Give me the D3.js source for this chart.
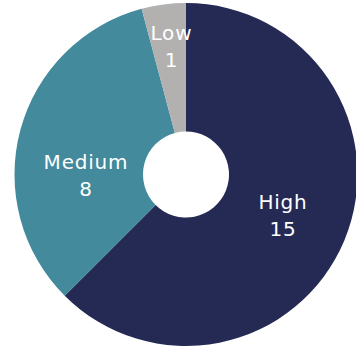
<!DOCTYPE html>
<html><head><meta charset="utf-8">
<script src="https://cdn.jsdelivr.net/npm/d3@7"></script>
<style>html,body{margin:0;padding:0;background:#fff;}</style>
</head><body>
<svg id="chart" width="356" height="350"></svg>
<script>
const categories = ["High", "Medium", "Low"];
const values = [15, 8, 1];
const colors = ["#252a55", "#428a9c", "#b3b0b0"];

const cx = 186, cy = 174.5, R = 171.5, r0 = 43;
// label placement: angle offset (deg) and radius for inside text
const labelPlace = { High: {da: 0, rad: 105}, Medium: {da: -15, rad: 100}, Low: {da: 1, rad: 129} };

const svg = d3.select("#chart");
const g = svg.append("g").attr("transform", `translate(${cx},${cy})`);
const data = categories.map((c, i) => ({cat: c, val: values[i], color: colors[i]}));
const pie = d3.pie().value(d => d.val).sort(null);
const arc = d3.arc().innerRadius(r0).outerRadius(R);
const arcs = pie(data);

g.selectAll("path").data(arcs).join("path")
  .attr("d", arc).attr("fill", d => d.data.color);

const lbl = g.selectAll("g.lbl").data(arcs).join("g").attr("class", "lbl")
  .attr("transform", d => {
    const p = labelPlace[d.data.cat];
    const a = (d.startAngle + d.endAngle) / 2 + p.da * Math.PI / 180;
    return `translate(${p.rad * Math.sin(a)},${-p.rad * Math.cos(a)})`;
  });
const fontStyle = sel => sel.attr("text-anchor", "middle").attr("fill", "#fff")
  .style("font-family", "DejaVu Sans").style("font-size", "20px").style("letter-spacing", "0.8px");
lbl.append("text").attr("y", -6).call(fontStyle).text(d => d.data.cat);
lbl.append("text").attr("y", 21).call(fontStyle).text(d => d.data.val);
</script>
</body></html>
